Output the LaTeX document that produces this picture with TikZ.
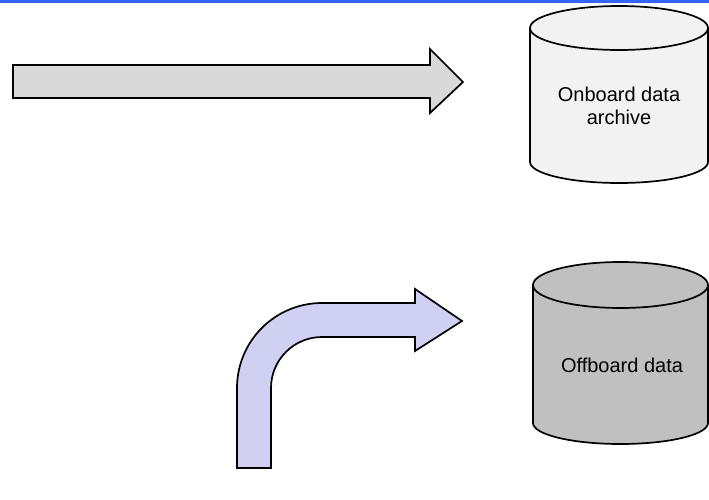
\documentclass[tikz,border=0pt]{standalone}
\usepackage{fontspec}
\setmainfont{Liberation Sans}
\definecolor{topblue}{HTML}{3366FF}
\definecolor{arrowgray}{HTML}{D9D9D9}
\definecolor{arrowlav}{HTML}{D0D0F2}
\definecolor{cylight}{HTML}{F2F2F2}
\definecolor{cydark}{HTML}{C0C0C0}
\begin{document}
\begin{tikzpicture}[x=1pt,y=1pt,
  shapeline/.style={draw=black,line width=1.7pt,line join=miter},
  lbl/.style={font=\fontsize{20}{23}\selectfont,align=center,inner sep=0pt}]
\useasboundingbox (0,0) rectangle (709,499);
% top bar
\fill[topblue] (0,495.5) rectangle (709,499);
% straight arrow
\draw[shapeline,fill=arrowgray] (13,434) -- (430,434) -- (430,450) -- (463,417) -- (430,386) -- (430,401) -- (13,401) -- cycle;
% cylinder 1
\draw[shapeline,fill=cylight] (530,471) -- (530,337) arc[start angle=180,end angle=360,x radius=89,y radius=21] -- (708,471) arc[start angle=0,end angle=180,x radius=89,y radius=22] -- cycle;
\draw[shapeline] (530,471) arc[start angle=180,end angle=360,x radius=89,y radius=22];
\node[lbl] (onboard) at (619,393) {Onboard data\\archive};
% bent arrow
\draw[shapeline,fill=arrowlav] (237,31) -- (237,111) arc[start angle=180,end angle=90,radius=85] -- (415,196) -- (415,210) -- (462,178) -- (415,148) -- (415,162) -- (322,162) arc[start angle=90,end angle=180,radius=51] -- (271,31) -- cycle;
% cylinder 2
\draw[shapeline,fill=cydark] (533,214) -- (533,76) arc[start angle=180,end angle=360,x radius=87.5,y radius=21] -- (708,214) arc[start angle=0,end angle=180,x radius=87.5,y radius=23] -- cycle;
\draw[shapeline] (533,214) arc[start angle=180,end angle=360,x radius=87.5,y radius=23];
\node[lbl] (offboard) at (622,134) {Offboard data};
\end{tikzpicture}
\end{document}
